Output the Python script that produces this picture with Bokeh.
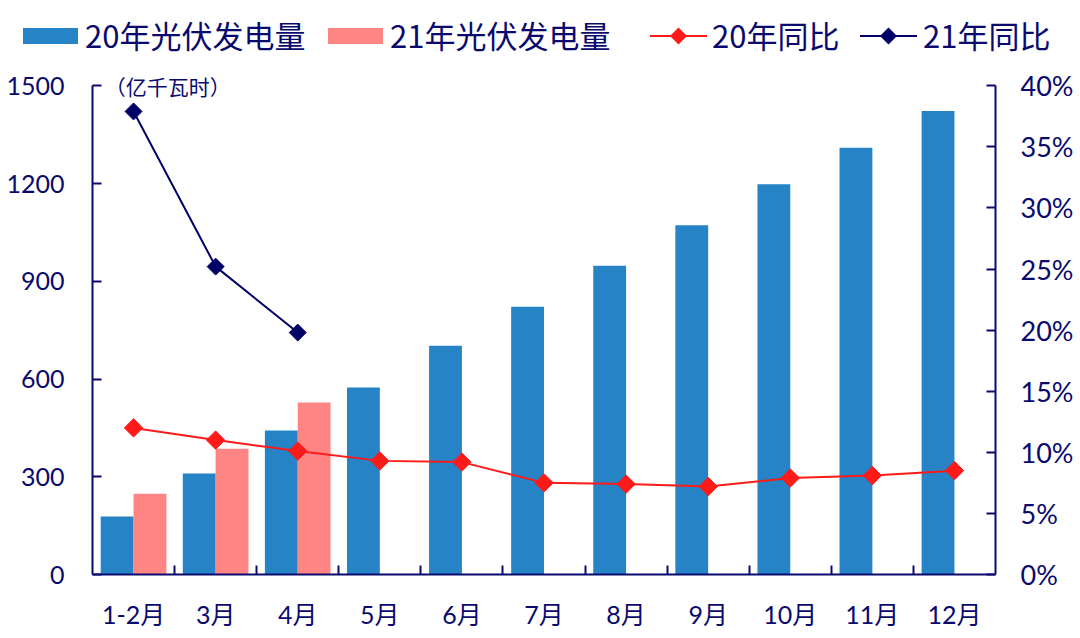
import numpy as np
from bokeh.plotting import figure
from bokeh.layouts import column
from bokeh.models import (Range1d, LinearAxis, FixedTicker, NumeralTickFormatter,
                          Label, ColumnDataSource, Div)
from bokeh.transform import dodge
from bokeh.embed import file_html
from bokeh.resources import INLINE

months = ["1-2月", "3月", "4月", "5月", "6月", "7月", "8月", "9月", "10月", "11月", "12月"]
gen_2020 = [178, 310, 442, 574, 702, 822, 948, 1072, 1198, 1310, 1423]
gen_2021 = [248, 386, 528]
yoy_2020 = [0.120, 0.110, 0.101, 0.093, 0.092, 0.075, 0.074, 0.072, 0.079, 0.081, 0.085]
yoy_2021 = [0.379, 0.252, 0.198]
left_ticks = [0, 300, 600, 900, 1200, 1500]
right_ticks = [0, 0.05, 0.10, 0.15, 0.20, 0.25, 0.30, 0.35, 0.40]
series_names = ["20年光伏发电量", "21年光伏发电量", "20年同比", "21年同比"]
unit_text = "（亿千瓦时）"

NAVY = "#0A0A6E"
BLUE = "#2683C6"
PINK = "#FF8585"
RED = "#FF1A1A"
LINE_NAVY = "#000066"
FONT = "Lato, 'Noto Sans CJK SC'"
CJK = "'Noto Sans CJK SC'"

YMAX = 1550
PMAX = 0.40 * YMAX / 1500

centers = list(np.arange(len(months)) + 0.5)
src20 = ColumnDataSource(dict(x=centers, y=gen_2020, r=yoy_2020))
src21 = ColumnDataSource(dict(x=centers[:len(gen_2021)], y=gen_2021, r=yoy_2021))

p = figure(width=1072, height=568, output_backend="svg", toolbar_location=None,
           x_range=Range1d(0, len(months)), y_range=Range1d(0, YMAX),
           frame_width=903, frame_height=505,
           min_border_left=92, min_border_right=77, min_border_top=9, min_border_bottom=54)
p.outline_line_color = None
p.xgrid.visible = False
p.ygrid.visible = False
p.background_fill_color = "white"
p.border_fill_color = "white"
p.extra_y_ranges = {"pct": Range1d(0, PMAX)}

p.vbar(x=dodge("x", -0.2), top="y", width=0.4, source=src20, fill_color=BLUE, line_color=None)
p.vbar(x=dodge("x", 0.2), top="y", width=0.4, source=src21, fill_color=PINK, line_color=None)
p.line("x", "r", source=src20, y_range_name="pct", line_color=RED, line_width=2)
p.scatter("x", "r", source=src20, y_range_name="pct", marker="square", angle=np.pi / 4,
          size=13, fill_color=RED, line_color=RED)
p.line("x", "r", source=src21, y_range_name="pct", line_color=LINE_NAVY, line_width=2)
p.scatter("x", "r", source=src21, y_range_name="pct", marker="square", angle=np.pi / 4,
          size=12, fill_color=LINE_NAVY, line_color=LINE_NAVY)

# x axis: labels at centers, ticks at category boundaries (minor ticks)
xa = p.xaxis[0]
xa.ticker = FixedTicker(ticks=centers, minor_ticks=list(range(1, len(months))))
xa.major_label_overrides = {c: m for c, m in zip(centers, months)}
xa.major_tick_line_color = None
xa.minor_tick_in = 9
xa.minor_tick_out = 0
xa.minor_tick_line_color = NAVY
xa.minor_tick_line_width = 2
xa.axis_line_color = NAVY
xa.axis_line_width = 2
xa.major_label_text_font = FONT
xa.major_label_text_font_size = "25px"
xa.major_label_text_color = NAVY
xa.major_label_standoff = 18

ya = p.yaxis[0]
ya.ticker = FixedTicker(ticks=left_ticks)
ya.bounds = (0, 1500)
ya.major_tick_in = 9
ya.major_tick_out = 0
ya.minor_tick_line_color = None
ya.major_tick_line_color = NAVY
ya.major_tick_line_width = 2
ya.axis_line_color = NAVY
ya.axis_line_width = 2
ya.major_label_text_font = FONT
ya.major_label_text_font_size = "25px"
ya.major_label_text_color = NAVY
ya.major_label_standoff = 28

ra = LinearAxis(y_range_name="pct", ticker=FixedTicker(ticks=right_ticks),
                formatter=NumeralTickFormatter(format="0%"), bounds=(0, 0.40))
ra.major_tick_in = 9
ra.major_tick_out = 0
ra.minor_tick_line_color = None
ra.major_tick_line_color = NAVY
ra.major_tick_line_width = 2
ra.axis_line_color = NAVY
ra.axis_line_width = 2
ra.major_label_text_font = FONT
ra.major_label_text_font_size = "27px"
ra.major_label_text_color = NAVY
ra.major_label_standoff = 25
p.add_layout(ra, "right")

unit = Label(x=0.15, y=1498, text=unit_text, text_font=CJK, text_font_size="21px",
             text_color=NAVY, text_baseline="middle", text_align="left")
p.add_layout(unit)

# legend strip above the chart
def swatch(left, color):
    return (f'<span style="position:absolute;left:{left}px;top:28px;width:55px;height:16px;'
            f'background:{color};"></span>')


def line_key(left, color):
    return (f'<svg style="position:absolute;left:{left}px;top:26px;" width="57" height="20">'
            f'<line x1="0" y1="10" x2="57" y2="10" stroke="{color}" stroke-width="2"/>'
            f'<polygon points="28.5,1.5 37,10 28.5,18.5 20,10" fill="{color}"/></svg>')


def label(left, text):
    return (f'<span style="position:absolute;left:{left}px;top:14px;line-height:42px;'
            f'white-space:nowrap;">{text}</span>')


html = (f'<div style="position:relative;width:1072px;height:60px;font-family:{CJK},sans-serif;'
        f'font-size:31px;color:{NAVY};">'
        + swatch(23, BLUE) + label(85, series_names[0])
        + swatch(328, PINK) + label(390, series_names[1])
        + line_key(650, RED) + label(712, series_names[2])
        + line_key(860, LINE_NAVY) + label(923, series_names[3])
        + '</div>')
lg = Div(text=html, width=1072, height=60, margin=(0, 0, 0, 0))

layout = column(lg, p, spacing=0)
open("out.html", "w").write(file_html(layout, INLINE))
